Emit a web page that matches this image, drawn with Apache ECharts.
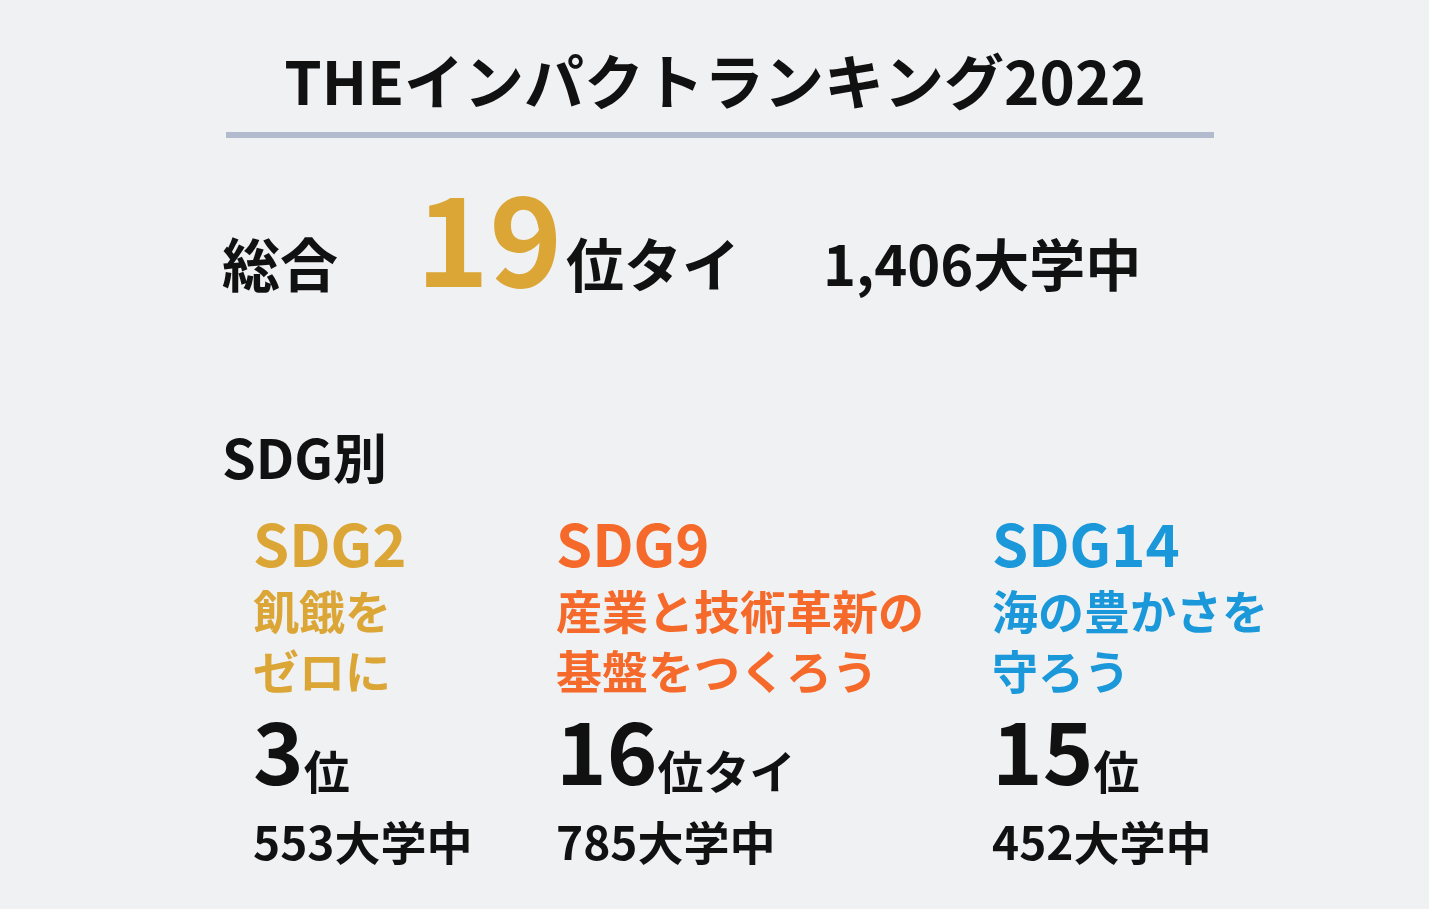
<!DOCTYPE html>
<html><head><meta charset="utf-8">
<script src="https://cdn.jsdelivr.net/npm/echarts@6/dist/echarts.min.js"></script>
<style>html,body{margin:0;background:#F0F1F3}#c{width:1429px;height:909px}</style>
</head><body><div id="c"></div>
<script>
const title = 'THEインパクトランキング2022';
const overallRank = '19';
const overallSuffix = '位タイ';
const overallTotal = '1,406大学中';
const sdgNames = ['SDG2', 'SDG9', 'SDG14'];
const sdgLine1 = ['飢餓を', '産業と技術革新の', '海の豊かさを'];
const sdgLine2 = ['ゼロに', '基盤をつくろう', '守ろう'];
const sdgRanks = ['3', '16', '15'];
const sdgRankSuffix = ['位', '位タイ', '位'];
const sdgTotals = ['553大学中', '785大学中', '452大学中'];
const sdgColors = ['#DBA636', '#F56A2A', '#1A98DA'];
const colX = [253, 556, 992];

const F = '"Noto Sans CJK JP","Noto Sans",sans-serif';
const chart = echarts.init(document.getElementById('c'));
const T = (x, y, text, size, color, extra) => ({
  type: 'text', x, y,
  style: Object.assign({text, font: `bold ${size}px ${F}`, fill: color || '#111', textVerticalAlign: 'middle'}, extra || {})
});
const g = [
  T(715, 82, title, 60, '#111', {textAlign: 'center'}),
  {type: 'rect', shape: {x: 226, y: 132, width: 988, height: 6}, style: {fill: '#B2BACD'}},
  T(222, 265, '総合', 58),
  T(416, 240, overallRank, 124, '#DBA636'),
  T(566, 265, overallSuffix, 58),
  T(823, 265, overallTotal, 56),
  T(222, 458, 'SDG別', 54)
];
sdgNames.forEach((n, i) => {
  const x = colX[i];
  g.push(T(x, 545, n, 58, sdgColors[i]));
  g.push(T(x, 612, sdgLine1[i], 46, sdgColors[i]));
  g.push(T(x, 672, sdgLine2[i], 46, sdgColors[i]));
  g.push({type: 'text', x, y: 795, style: {
    text: `{n|${sdgRanks[i]}}{u|${sdgRankSuffix[i]}}`, textVerticalAlign: 'bottom',
    rich: {n: {font: `bold 86px ${F}`, fill: '#111', verticalAlign: 'bottom', lineHeight: 90},
           u: {font: `bold 46px ${F}`, fill: '#111', verticalAlign: 'bottom', lineHeight: 70}}
  }});
  g.push(T(x, 843, sdgTotals[i], 46));
});
chart.setOption({backgroundColor: '#F0F1F3', graphic: g});
</script></body></html>
